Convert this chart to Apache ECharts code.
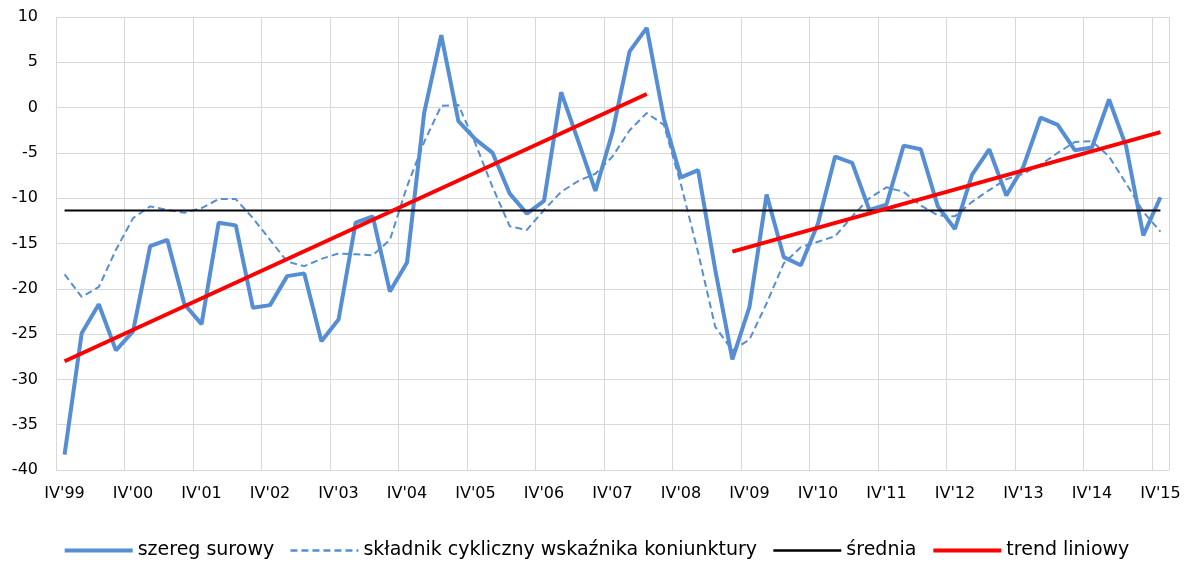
<!DOCTYPE html>
<html>
<head>
<meta charset="utf-8">
<script src="https://cdn.jsdelivr.net/npm/echarts@6/dist/echarts.min.js"></script>
<style>
  html, body { margin: 0; padding: 0; background: #fff; }
  #main { width: 1192px; height: 570px; }
</style>
</head>
<body>
<div id="main"></div>
<script>
// kwartaly IV'99 .. IV'15
var years = ['99','00','01','02','03','04','05','06','07','08','09','10','11','12','13','14','15'];
var quarters = ['I','II','III','IV'];
var categories = ["IV'99"];
for (var y = 1; y < years.length; y++) {
    for (var q = 0; q < 4; q++) {
        categories.push(quarters[q] + "'" + years[y]);
    }
}

// szereg surowy
var szeregSurowy = [
    -38.3, -24.9, -21.7, -26.8, -24.7, -15.3, -14.6, -21.7, -23.9, -12.7,
    -13.0, -22.1, -21.8, -18.6, -18.3, -25.8, -23.4, -12.7, -12.0, -20.3,
    -17.1, -0.6, 8.0, -1.5, -3.5, -5.0, -9.5, -11.7, -10.3, 1.7,
    -3.7, -9.2, -2.7, 6.2, 8.8, -1.2, -7.7, -6.9, -17.9, -27.8,
    -22.0, -9.6, -16.5, -17.4, -12.8, -5.4, -6.1, -11.3, -10.7, -4.2,
    -4.6, -10.9, -13.4, -7.4, -4.6, -9.7, -6.5, -1.1, -1.9, -4.7,
    -4.4, 0.9, -4.3, -14.1, -9.9
];

// skladnik cykliczny
var skladnikCykliczny = [
    -18.4, -20.9, -19.8, -15.7, -12.2, -10.9, -11.3, -11.6, -11.1, -10.1,
    -10.1, -12.2, -14.6, -17.0, -17.5, -16.7, -16.1, -16.2, -16.3, -14.6,
    -8.7, -3.8, 0.2, 0.3, -4.0, -8.8, -13.1, -13.5, -11.3, -9.3,
    -8.1, -7.3, -5.4, -2.5, -0.6, -1.9, -8.5, -16.0, -24.2, -26.8,
    -25.6, -21.6, -17.2, -15.4, -14.8, -14.2, -12.0, -10.0, -8.8, -9.3,
    -10.8, -11.9, -12.0, -10.4, -9.1, -7.9, -7.3, -6.3, -5.0, -3.8,
    -3.7, -5.4, -8.4, -11.5, -13.7
];

var srednia = -11.35;
var sredniaData = [[categories[0], srednia], [categories[64], srednia]];

// trend liniowy - dwa odcinki
var trend1 = [[categories[0], -28.0], [categories[34], 1.5]];
var trend2 = [[categories[39], -15.9], [categories[64], -2.7]];

var yTicks = { min: -40, max: 10, interval: 5 };

var chart = echarts.init(document.getElementById('main'));
var font = 'DejaVu Sans';
chart.setOption({
    animation: false,
    grid: { left: 56, right: 23, top: 17, bottom: 100 },
    legend: {
        bottom: 5,
        left: 'center',
        itemWidth: 68,
        itemHeight: 14,
        itemGap: 15,
        itemStyle: { opacity: 0 },
        textStyle: { fontFamily: font, fontSize: 19, color: '#000' },
        data: [
            { name: 'szereg surowy', lineStyle: { width: 4 } },
            { name: 'składnik cykliczny wskaźnika koniunktury', lineStyle: { width: 2.5 } },
            { name: 'średnia', lineStyle: { width: 2.5 } },
            { name: 'trend liniowy', lineStyle: { width: 4 } }
        ]
    },
    xAxis: {
        type: 'category',
        data: categories,
        boundaryGap: true,
        axisLine: { lineStyle: { color: '#d9d9d9' } },
        axisTick: { show: false },
        axisLabel: { interval: 3, margin: 16, color: '#000', fontFamily: font, fontSize: 16 },
        splitLine: { show: true, interval: 3, lineStyle: { color: '#d9d9d9', width: 1 } }
    },
    yAxis: {
        type: 'value',
        min: yTicks.min,
        max: yTicks.max,
        interval: yTicks.interval,
        axisLine: { show: false },
        axisTick: { show: false },
        axisLabel: { margin: 18, color: '#000', fontFamily: font, fontSize: 16 },
        splitLine: { lineStyle: { color: '#d9d9d9', width: 1 } }
    },
    series: [
        {
            name: 'szereg surowy',
            type: 'line',
            data: szeregSurowy,
            symbol: 'none',
            lineStyle: { color: '#558ED5', width: 4 },
            itemStyle: { color: '#558ED5' },
            z: 3
        },
        {
            name: 'składnik cykliczny wskaźnika koniunktury',
            type: 'line',
            data: skladnikCykliczny,
            symbol: 'none',
            lineStyle: { color: '#558ED5', width: 2, type: [7, 4] },
            itemStyle: { color: '#558ED5' },
            z: 2
        },
        {
            name: 'średnia',
            type: 'line',
            data: sredniaData,
            symbol: 'none',
            lineStyle: { color: '#000', width: 2 },
            itemStyle: { color: '#000' },
            z: 4
        },
        {
            name: 'trend liniowy',
            type: 'line',
            data: trend1,
            symbol: 'none',
            lineStyle: { color: '#ff0000', width: 4 },
            itemStyle: { color: '#ff0000' },
            z: 5
        },
        {
            name: 'trend liniowy',
            type: 'line',
            data: trend2,
            symbol: 'none',
            lineStyle: { color: '#ff0000', width: 4 },
            itemStyle: { color: '#ff0000' },
            z: 5
        }
    ]
});
</script>
</body>
</html>
